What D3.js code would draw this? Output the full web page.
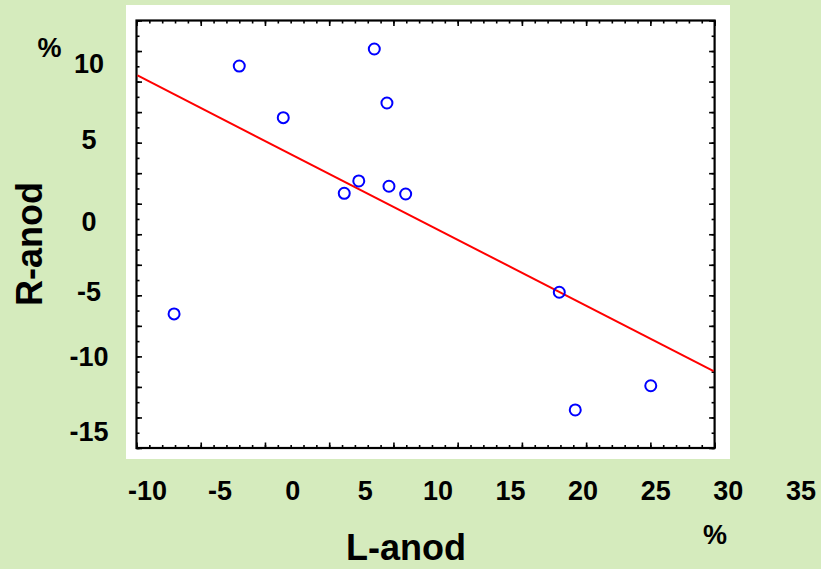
<!DOCTYPE html>
<html><head><meta charset="utf-8">
<script src="https://cdn.jsdelivr.net/npm/d3@7/dist/d3.min.js"></script>
<style>
html,body{margin:0;padding:0;background:#d5ebbd;}
svg{display:block;font-family:"Liberation Sans",Arial,sans-serif;font-weight:bold;}
</style>
</head><body>
<svg id="c" width="821" height="569"></svg>
<script>
// ---- data ----
const xValues = [-8.17, -3.68, -0.65, 3.55, 4.55, 5.62, 6.49, 6.63, 7.78, 18.36, 19.46, 24.66];
const yValues = [-6.82, 10.09, 6.57, 1.41, 2.25, 11.25, 7.57, 1.89, 1.36, -5.34, -13.37, -11.72];
const xTickLabels = [-10, -5, 0, 5, 10, 15, 20, 25, 30, 35];
const yTickLabels = [10, 5, 0, -5, -10, -15];
const xTitle = "L-anod";
const yTitle = "R-anod";
const unitLabel = "%";

// ---- layout ----
const panel = {x: 126, y: 5, w: 604, h: 454};
const frame = {left: 136.5, top: 20.5, right: 714.6, bottom: 448};

const svg = d3.select("#c");

// value scales (as the printed labels read)
const x = d3.scaleLinear().domain([-10, 35]).range([147.5, 800.9]);
const y = d3.scaleLinear().domain([-15, 10]).range([433.85, 67.35]);
// the printed y labels sit slightly unevenly in the source image
const yLabelPos = d3.scaleLinear().domain(yTickLabels).range([63.3, 139, 220.8, 291.5, 356.7, 431.7]);

// inner tick scales of the plot frame
const xTick = d3.scaleLinear().domain([-10, 35]).range([frame.left, frame.right]);
const yTick = d3.scaleLinear().domain([0, 28]).range([frame.bottom, frame.top]);

// white panel
svg.append("rect").attr("x", panel.x).attr("y", panel.y)
  .attr("width", panel.w).attr("height", panel.h).attr("fill", "#ffffff");

// frame ticks
function tickAxis(axisFn, scale, values, size, transform) {
  const g = svg.append("g").attr("transform", transform)
    .call(axisFn(scale).tickValues(values).tickSize(size).tickFormat(""));
  g.select(".domain").remove();
  g.selectAll("line").attr("stroke", "#000").attr("stroke-width", 1.6);
}
const xMajor = d3.range(-10, 36, 5), xMinor = d3.range(-10, 36, 1);
const yMajor = d3.range(0, 29, 2), yMinor = d3.range(0, 29, 1);
tickAxis(d3.axisBottom, xTick, xMinor, -3, `translate(0,${frame.bottom})`);
tickAxis(d3.axisBottom, xTick, xMajor, -5.5, `translate(0,${frame.bottom})`);
tickAxis(d3.axisTop, xTick, xMinor, -3, `translate(0,${frame.top})`);
tickAxis(d3.axisTop, xTick, xMajor, -5.5, `translate(0,${frame.top})`);
tickAxis(d3.axisLeft, yTick, yMinor, -3, `translate(${frame.left},0)`);
tickAxis(d3.axisLeft, yTick, yMajor, -5.5, `translate(${frame.left},0)`);
tickAxis(d3.axisRight, yTick, yMinor, -3, `translate(${frame.right},0)`);
tickAxis(d3.axisRight, yTick, yMajor, -5.5, `translate(${frame.right},0)`);

// frame
svg.append("rect").attr("x", frame.left).attr("y", frame.top)
  .attr("width", frame.right - frame.left).attr("height", frame.bottom - frame.top)
  .attr("fill", "none").attr("stroke", "#000").attr("stroke-width", 2.2);

// regression line (least squares fit of the points)
const mx = d3.mean(xValues), my = d3.mean(yValues);
const sxy = d3.sum(xValues, (v, i) => (v - mx) * (yValues[i] - my));
const sxx = d3.sum(xValues, v => (v - mx) * (v - mx));
const slope = sxy / sxx, icpt = my - slope * mx;
const xEnds = [x.invert(frame.left + 1), x.invert(frame.right - 1)];
svg.append("path")
  .datum(xEnds)
  .attr("d", d3.line().x(d => x(d)).y(d => y(icpt + slope * d)))
  .attr("stroke", "#ff0000").attr("stroke-width", 2).attr("fill", "none");

// points
svg.append("g").selectAll("circle")
  .data(xValues.map((v, i) => [v, yValues[i]]))
  .join("circle")
  .attr("cx", d => x(d[0])).attr("cy", d => y(d[1])).attr("r", 5.5)
  .attr("fill", "none").attr("stroke", "#0000ff").attr("stroke-width", 2);

// tick labels
svg.append("g").selectAll("text").data(xTickLabels).join("text")
  .attr("x", d => x(d)).attr("y", 500)
  .attr("text-anchor", "middle").attr("font-size", 27).attr("fill", "#000")
  .text(d => d);
svg.append("g").selectAll("text").data(yTickLabels).join("text")
  .attr("x", 89).attr("y", d => yLabelPos(d)).attr("dy", "0.36em")
  .attr("text-anchor", "middle").attr("font-size", 27).attr("fill", "#000")
  .text(d => d);

// titles
svg.append("text").attr("x", 406).attr("y", 560).attr("text-anchor", "middle")
  .attr("font-size", 36).attr("fill", "#000").text(xTitle);
svg.append("text").attr("transform", "translate(42,244) rotate(-90)")
  .attr("text-anchor", "middle").attr("font-size", 36).attr("fill", "#000").text(yTitle);

// unit labels
svg.append("text").attr("x", 49.5).attr("y", 57).attr("text-anchor", "middle")
  .attr("font-size", 27).attr("fill", "#000").text(unitLabel);
svg.append("text").attr("x", 715).attr("y", 544).attr("text-anchor", "middle")
  .attr("font-size", 27).attr("fill", "#000").text(unitLabel);
</script>
</body></html>
